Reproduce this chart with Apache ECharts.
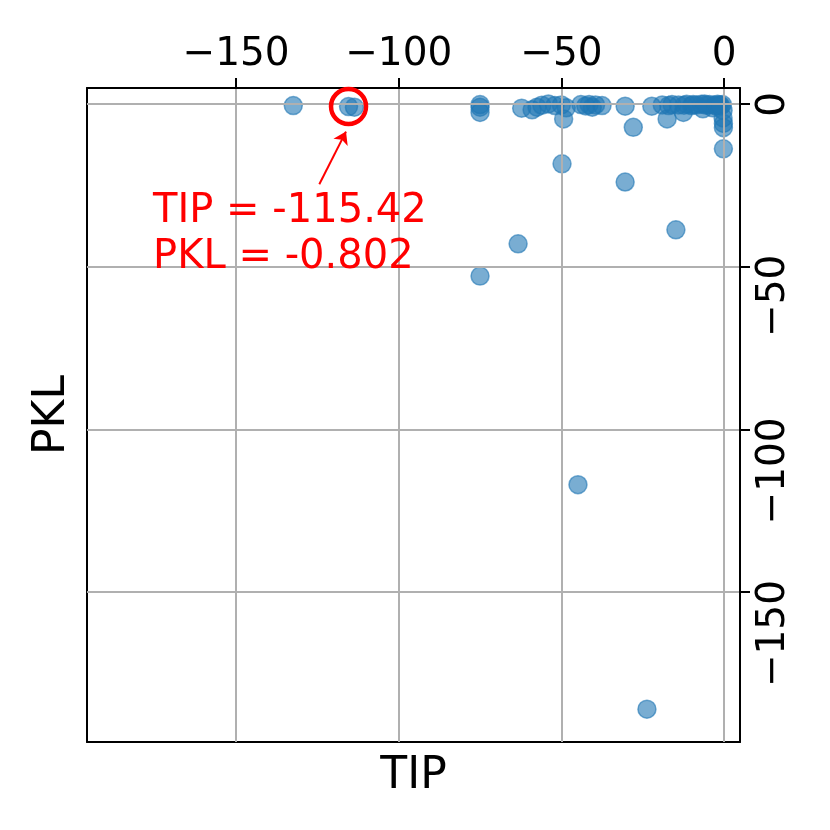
<!DOCTYPE html>
<html style="height: 100%;width:100%">
<head>
<meta charset="utf-8">
</head>
<body style="height: 100%; width:100%; margin:0">
<div id="chart-panel" style="width: 830px; height: 830px"></div>
<script type="text/javascript" src="https://cdn.jsdelivr.net/npm/echarts@6/dist/echarts.min.js"></script>
<script type="text/javascript">
// TIP / PKL values
var tip = [-132.4, -115.42, -113.6, -75.0, -75.0, -75.0, -62.2, -59.0, -57.5, -56.0,
  -54.0, -52.0, -50.0, -49.3, -48.5, -44.0, -42.5, -41.5, -40.5, -39.5,
  -37.5, -30.4, -27.9, -22.2, -17.5, -17.0, -16.0, -12.5, -12.3, -11.5,
  -8.5, -7.0, -6.5, -5.5, -4.5, -3.5, -3.0, -2.0, -1.0, -0.5,
  -0.3, -0.3, -0.2, -0.2, -0.2, -49.8, -30.4, -14.8, -63.3, -75.0,
  -44.9, -23.7, -19.0, -14.0, -10.0, -9.5, -6.0, -2.5, -1.5];
var pkl = [-0.5, -0.802, -1.0, -0.2, -1.0, -2.6, -1.3, -1.8, -1.0, -0.4,
  0.0, -0.5, -0.3, -4.6, -1.2, -0.2, -0.6, -0.2, -1.0, -0.3,
  -0.5, -0.7, -7.2, -0.7, -4.6, -0.5, -0.2, -2.6, -0.4, -0.1,
  -0.3, -0.1, -1.5, -0.4, -0.2, -1.2, -0.3, -0.1, -0.5, -0.2,
  -2.0, -4.3, -6.0, -7.3, -13.8, -18.4, -24.0, -38.7, -43.0, -52.9,
  -117.0, -186.0, -0.3, -0.3, -0.5, -0.2, 0.0, -0.6, -0.3];
var tickValues = [-150, -100, -50, 0];
var xRange = [-195.8, 4.9];
var yRange = [-196.1, 4.9];
var hiTip = -115.42, hiPkl = -0.802;

var dom = document.getElementById('chart-panel');
var myChart = echarts.init(dom);
var FONT = 'DejaVu Sans';

var points = [];
for (var i = 0; i < tip.length; i++) {
  points.push([tip[i], pkl[i]]);
}

function minusFmt(v) {
  return v < 0 ? '\u2212' + (-v) : String(v);
}

var option = {
  backgroundColor: '#fff',
  animation: false,
  grid: { left: 87, right: 90, top: 88, bottom: 88 },
  xAxis: [{
    type: 'value', position: 'top', min: xRange[0], max: xRange[1], z: 3,
    axisLine: { show: true, onZero: false, lineStyle: { color: '#000', width: 2 } },
    axisTick: { show: true, inside: false, length: 10, customValues: tickValues, lineStyle: { color: '#000', width: 2 } },
    axisLabel: { customValues: tickValues, formatter: minusFmt, color: '#000', fontFamily: FONT, fontSize: 39, margin: 14 },
    splitLine: { show: true, lineStyle: { color: '#b0b0b0', width: 2 } }
  }, {
    type: 'value', position: 'bottom', min: xRange[0], max: xRange[1],
    name: 'TIP', nameLocation: 'middle', nameGap: 13,
    nameTextStyle: { color: '#000', fontFamily: FONT, fontSize: 44, verticalAlign: 'top' },
    axisLine: { show: true, onZero: false, lineStyle: { color: '#000', width: 2 } },
    axisTick: { show: false }, axisLabel: { show: false }, splitLine: { show: false }
  }],
  yAxis: [{
    type: 'value', position: 'right', min: yRange[0], max: yRange[1], z: 3,
    axisLine: { show: true, onZero: false, lineStyle: { color: '#000', width: 2 } },
    axisTick: { show: true, inside: false, length: 10, customValues: tickValues, lineStyle: { color: '#000', width: 2 } },
    axisLabel: {
      customValues: tickValues, formatter: minusFmt, color: '#000', fontFamily: FONT, fontSize: 39,
      rotate: 90, align: 'right', verticalAlign: 'top', padding: [0, -12, 0, 0], margin: 14
    },
    splitLine: { show: true, lineStyle: { color: '#b0b0b0', width: 2 } }
  }, {
    type: 'value', position: 'left', min: yRange[0], max: yRange[1],
    name: 'PKL', nameLocation: 'middle', nameGap: 12,
    nameTextStyle: { color: '#000', fontFamily: FONT, fontSize: 44, verticalAlign: 'bottom' },
    axisLine: { show: true, onZero: false, lineStyle: { color: '#000', width: 2 } },
    axisTick: { show: false }, axisLabel: { show: false }, splitLine: { show: false }
  }],
  series: [{
    type: 'scatter',
    xAxisIndex: 0, yAxisIndex: 0,
    symbolSize: 18,
    z: 2,
    itemStyle: {
      color: 'rgba(31,119,180,0.6)',
      borderColor: 'rgba(31,119,180,0.6)',
      borderWidth: 1.5,
      opacity: 1
    },
    data: points
  }, {
    // annotation of the highlighted point
    type: 'scatter',
    xAxisIndex: 0, yAxisIndex: 0,
    z: 5,
    data: [],
    markPoint: {
      silent: true,
      data: [{
        coord: [hiTip, hiPkl], symbol: 'circle', symbolSize: 35,
        itemStyle: { color: 'rgba(0,0,0,0)', borderColor: '#ff0000', borderWidth: 4.5 },
        label: { show: false }
      }, {
        coord: [-175.5, -40.1], symbol: 'circle', symbolSize: 1,
        itemStyle: { color: 'rgba(0,0,0,0)' },
        label: {
          show: true, position: 'inside', align: 'left', verticalAlign: 'middle',
          formatter: 'TIP = ' + hiTip + '\nPKL = ' + hiPkl,
          color: '#ff0000', fontFamily: FONT, fontSize: 40, lineHeight: 46
        }
      }]
    },
    markLine: {
      silent: true,
      symbol: ['none', 'arrow'],
      symbolSize: 12,
      label: { show: false },
      lineStyle: { color: '#ff0000', width: 2, type: 'solid' },
      data: [[{ coord: [-124.4, -24.7] }, { coord: [-116.2, -8.5] }]]
    }
  }]
};

myChart.setOption(option);
</script>
</body>
</html>
